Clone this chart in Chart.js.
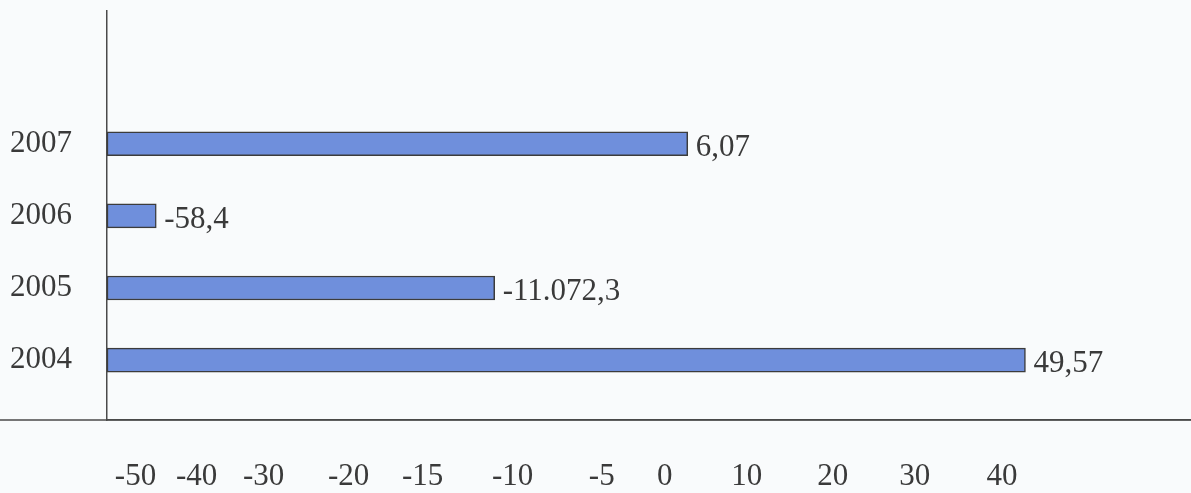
<!DOCTYPE html>
<html>
<head>
<meta charset="utf-8">
<script src="https://cdn.jsdelivr.net/npm/chart.js@4/dist/chart.umd.min.js"></script>
<style>
  html, body { margin: 0; padding: 0; background: #f9fbfc; }
  #wrap { width: 1191px; height: 493px; position: relative; }
</style>
</head>
<body>
<div id="wrap"><canvas id="c"></canvas></div>
<script>
// ---- data ----
const years = ['2004', '2005', '2006', '2007'];
// where each bar ends, read against the (uneven) bottom axis
const barEnds = [42.7, -11.0, -46.6, 2.8];
// the value printed next to each bar
const valueLabels = ['49,57', '-11.072,3', '-58,4', '6,07'];
// bottom axis tick labels
const tickValues = [-50, -40, -30, -20, -15, -10, -5, 0, 10, 20, 30, 40];
const axisMin = -54.7;
const axisMax = 61.7;

// ---- layout of the uneven bottom axis (offsets along an axis of length 1083.5) ----
const axisLength = 1083.5;
const tickOffsets = [28.5, 89.5, 156.5, 241.5, 315.5, 405.5, 494.5, 557.5, 639.5, 725.5, 807.5, 894.5];

const stops = [[axisMin, 0]]
  .concat(tickValues.map((v, i) => [v, tickOffsets[i] / axisLength]))
  .concat([[axisMax, 1]]);

class PiecewiseScale extends Chart.LinearScale {
  getPixelForValue(value) {
    const st = this.options.stops;
    let i = 0;
    while (i < st.length - 2 && value > st[i + 1][0]) i++;
    const [v0, f0] = st[i], [v1, f1] = st[i + 1];
    const f = f0 + (value - v0) / (v1 - v0) * (f1 - f0);
    return this.getPixelForDecimal(f);
  }
  getValueForPixel(pixel) {
    const st = this.options.stops;
    const f = this.getDecimalForPixel(pixel);
    let i = 0;
    while (i < st.length - 2 && f > st[i + 1][1]) i++;
    const [v0, f0] = st[i], [v1, f1] = st[i + 1];
    return v0 + (f - f0) / (f1 - f0) * (v1 - v0);
  }
}
PiecewiseScale.id = 'piecewise';
PiecewiseScale.defaults = Chart.LinearScale.defaults;
Chart.register(PiecewiseScale);

const FONT = '"Liberation Serif", "Times New Roman", serif';
const TEXT = '#3a3a3a';
const LINE = '#4a4a4a';

const valueLabelPlugin = {
  id: 'valueLabels',
  afterDatasetsDraw(chart) {
    const ctx = chart.ctx;
    const meta = chart.getDatasetMeta(0);
    const xs = chart.scales.x;
    ctx.save();
    ctx.font = '31px ' + FONT;
    ctx.fillStyle = TEXT;
    ctx.textAlign = 'left';
    ctx.textBaseline = 'middle';
    meta.data.forEach((bar, i) => {
      const end = xs.getPixelForValue(barEnds[i]);
      ctx.fillText(valueLabels[i], end + 8, bar.y + 4);
    });
    ctx.restore();
  }
};

const fullAxisLine = {
  id: 'fullAxisLine',
  afterDraw(chart) {
    const ctx = chart.ctx;
    const y = chart.scales.x.top;
    ctx.save();
    ctx.strokeStyle = LINE;
    ctx.lineWidth = 1.5;
    ctx.beginPath();
    ctx.moveTo(0, y);
    ctx.lineTo(chart.width, y);
    ctx.stroke();
    ctx.restore();
  }
};

new Chart(document.getElementById('c'), {
  type: 'bar',
  data: {
    datasets: [{
      data: years.map((y, i) => ({ x: [axisMin, barEnds[i]], y: i })),
      backgroundColor: '#6f8fdc',
      borderColor: '#3c3c3c',
      borderWidth: 1.5,
      borderSkipped: false,
      barThickness: 24
    }]
  },
  options: {
    indexAxis: 'y',
    responsive: true,
    maintainAspectRatio: false,
    animation: false,
    layout: { padding: { top: 11, right: 0, left: 0, bottom: 0 } },
    plugins: { legend: { display: false }, tooltip: { enabled: false } },
    scales: {
      x: {
        type: 'piecewise',
        stops: stops,
        min: axisMin,
        max: axisMax,
        offset: false,
        position: 'bottom',
        afterBuildTicks: s => { s.ticks = tickValues.map(v => ({ value: v })); },
        afterFit: s => { s.height = 73; s.paddingLeft = 0; s.paddingRight = 0; },
        grid: { display: false, drawTicks: false },
        border: { display: true, color: LINE, width: 1.5 },
        ticks: {
          autoSkip: false,
          maxRotation: 0,
          padding: 38,
          color: TEXT,
          font: { family: FONT, size: 31 },
          callback: v => String(v)
        }
      },
      y: {
        type: 'linear',
        min: -0.83,
        max: 4.84,
        offset: false,
        afterBuildTicks: s => { s.ticks = years.map((_, i) => ({ value: i })); },
        afterFit: s => { s.width = 107; s.paddingTop = 0; s.paddingBottom = 0; },
        grid: { display: false, drawTicks: false },
        border: { display: true, color: LINE, width: 1.5 },
        ticks: {
          autoSkip: false,
          padding: 35,
          color: TEXT,
          font: { family: FONT, size: 31 },
          callback: v => years[v]
        }
      }
    }
  },
  plugins: [valueLabelPlugin, fullAxisLine]
});
</script>
</body>
</html>
